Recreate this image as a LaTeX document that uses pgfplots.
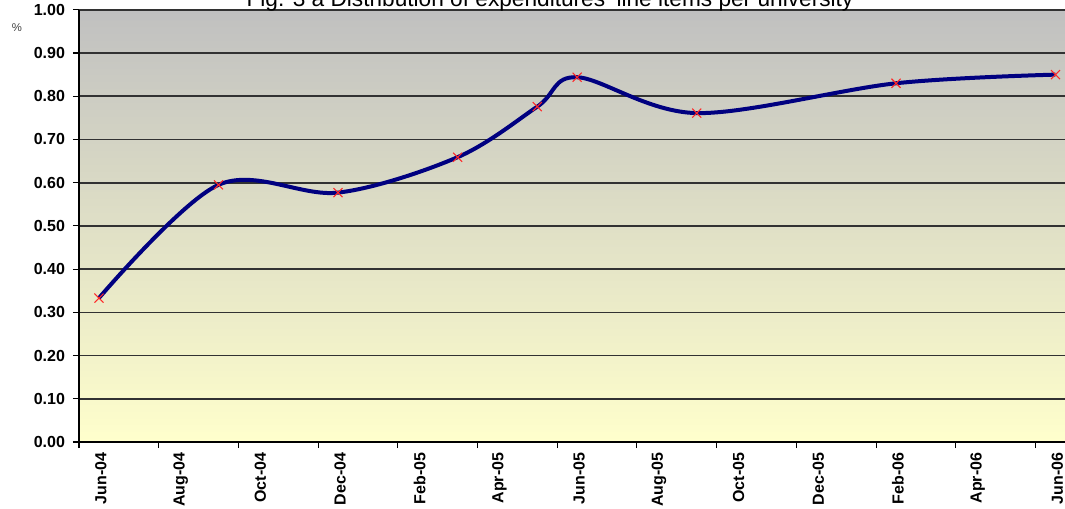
\documentclass[border=0pt]{standalone}
\usepackage{pgfplots}
\pgfplotsset{compat=1.18}
\usepackage{pgfplotstable}
\usepackage{fontspec}
\setmainfont{Liberation Sans}
\definecolor{navyline}{RGB}{0,0,128}
\definecolor{mkred}{RGB}{255,40,40}
\definecolor{bgtop}{RGB}{192,192,192}
\definecolor{bgbot}{RGB}{255,255,204}
\definecolor{gridc}{RGB}{50,50,50}
\pgfplotstableread{
m   v
0   0.333
3   0.595
6   0.577
9   0.659
11  0.776
12  0.844
15  0.761
20  0.830
24  0.850
}\datatab
\begin{document}
\begin{tikzpicture}
\begin{axis}[
  at={(0,0)}, anchor=south west,
  scale only axis, width=739.5pt, height=324.15pt,
  xmin=-0.5, xmax=24.24, ymin=0, ymax=1,
  axis x line*=bottom, axis y line*=left,
  axis line style={black, line width=0.9pt},
  axis background/.style={top color=bgtop, bottom color=bgbot},
  tick align=outside,
  major tick length=4.5pt,
  minor tick length=4.5pt,
  tick style={black, line width=0.8pt},
  major x tick style={draw=none},
  xtick={0,2,...,24},
  xticklabels={Jun-04,Aug-04,Oct-04,Dec-04,Feb-05,Apr-05,Jun-05,Aug-05,Oct-05,Dec-05,Feb-06,Apr-06,Jun-06},
  minor xtick={-0.5,1.5,3.5,5.5,7.5,9.5,11.5,13.5,15.5,17.5,19.5,21.5,23.5},
  xticklabel style={rotate=90, anchor=east, yshift=-1.5pt, font=\fontsize{12}{14}\selectfont\bfseries},
  ytick={0,0.1,0.2,0.3,0.4,0.5,0.6,0.7,0.8,0.9,1.0},
  yticklabel style={font=\fontsize{12}{14}\selectfont\bfseries, xshift=-2.5pt,
    /pgf/number format/fixed, /pgf/number format/fixed zerofill,
    /pgf/number format/precision=2},
  /pgf/number format/assume math mode=true,
  ymajorgrids,
  grid style={gridc, line width=1.25pt},
]
\addplot[navyline, line width=3pt, smooth, tension=0.55, no markers] table[x=m, y=v] {\datatab};
\addplot[only marks, mark=x, mark size=4.8pt, mkred, mark options={line width=0.8pt}] table[x=m, y=v] {\datatab};
\end{axis}
\node[anchor=base, font=\fontsize{17}{19}\selectfont] at (353.25pt, 326.25pt) {Fig. 3 a Distribution of expenditures' line items per university};
\node[font=\fontsize{8.5}{9}\selectfont, text=black!75] at (-46.5pt, 310.5pt) {\%};
\pgfresetboundingbox
\useasboundingbox (-59.25pt,-49.5pt) rectangle (739.5pt,331.5pt);
\end{tikzpicture}
\end{document}
